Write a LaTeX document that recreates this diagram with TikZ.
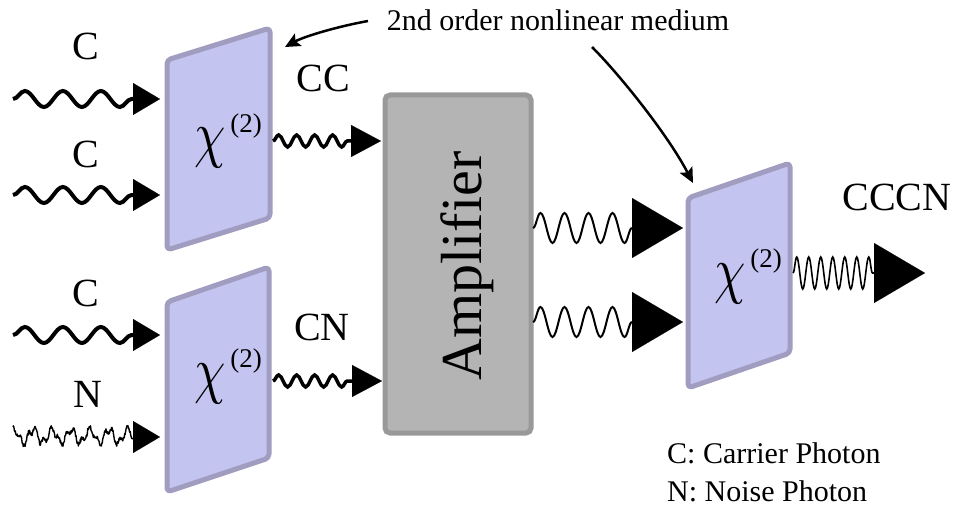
\documentclass[tikz,border=0pt]{standalone}
\usepackage{fontspec}
\usepackage{graphicx}
\setmainfont{Liberation Serif}
\usetikzlibrary{arrows.meta,decorations.pathmorphing}
\definecolor{chifill}{RGB}{196,196,240}
\definecolor{chiedge}{RGB}{160,157,192}
\definecolor{ampfill}{RGB}{180,180,180}
\definecolor{ampedge}{RGB}{153,153,153}
\newcommand{\chilabel}{\scalebox{5}[6.4]{$\chi$}\kern5pt\raisebox{24pt}{\fontsize{27}{27}\selectfont (2)}}
\begin{document}
\begin{tikzpicture}[x=1pt,y=-1pt,
  chibox/.style={draw=chiedge, fill=chifill, line width=5pt, rounded corners=4pt, line join=round},
  ampbox/.style={draw=ampedge, fill=ampfill, line width=5pt, rounded corners=5pt},
  biglbl/.style={inner sep=0pt, anchor=base, font=\fontsize{40}{40}\selectfont},
  smalllbl/.style={inner sep=0pt, font=\fontsize{30}{30}\selectfont},
  chilbl/.style={inner sep=0pt, anchor=base west},
  wavein/.style={line width=4pt, decorate, decoration={snake, amplitude=8pt, segment length=38pt}},
  wavemid/.style={line width=3.5pt, decorate, decoration={snake, amplitude=6pt, segment length=18pt}},
  waveamp/.style={line width=2pt, decorate, decoration={snake, amplitude=15pt, segment length=24pt}},
  waveout/.style={line width=1.6pt, decorate, decoration={snake, amplitude=16pt, segment length=12pt}},
  noiseline/.style={line width=1.4pt, line join=round},
  headsmall/.style={line width=0.1pt, -{Triangle[length=27pt, width=32pt]}},
  headmid/.style={line width=0.1pt, -{Triangle[length=30pt, width=32pt]}},
  headbig/.style={line width=0.1pt, -{Triangle[length=51pt, width=60pt]}},
  pointer/.style={line width=2.5pt, -{Stealth[length=15pt, width=14pt, inset=3pt]}},
]
\useasboundingbox (0,0) rectangle (958,508);

% boxes
\draw[chibox] (167,60) -- (270,28) -- (270,218) -- (167,250) -- cycle;
\draw[chibox] (167,302) -- (269,267) -- (269,458) -- (167,492) -- cycle;
\draw[chibox] (688,198) -- (790,163) -- (790,353) -- (688,388) -- cycle;
\draw[ampbox] (385,95) rectangle (531,433);

\node[chilbl] (chiA) at (194,156) {\chilabel};
\node[chilbl] (chiB) at (194,391) {\chilabel};
\node[chilbl] (chiC) at (714,291) {\chilabel};
\node[inner sep=0pt, rotate=90, anchor=base, font=\fontsize{58}{58}\selectfont] (amp) at (481,266) {Amplifier};

% labels
\node[biglbl] (lC1) at (86,60) {C};
\node[biglbl] (lC2) at (86,167) {C};
\node[biglbl] (lC3) at (86,306) {C};
\node[biglbl] (lN) at (88,407) {N};
\node[biglbl] (lCC) at (323,92) {CC};
\node[biglbl] (lCN) at (322,340) {CN};
\node[biglbl] (lCCCN) at (897,210) {CCCN};
\node[smalllbl, anchor=base] (title) at (558,31) {2nd order nonlinear medium};
\node[smalllbl, anchor=base west] (leg1) at (667,463) {C: Carrier Photon};
\node[smalllbl, anchor=base west] (leg2) at (667,501) {N: Noise Photon};

% coordinates for photons
\coordinate (i1s) at (13,99);  \coordinate (i1e) at (133,99);  \coordinate (i1t) at (160,99);
\coordinate (i2s) at (13,195); \coordinate (i2e) at (133,195); \coordinate (i2t) at (160,195);
\coordinate (i3s) at (13,335); \coordinate (i3e) at (133,335); \coordinate (i3t) at (160,335);
\coordinate (n1e) at (134,437); \coordinate (n1t) at (160,437);
\coordinate (o1s) at (273,141); \coordinate (o1e) at (351,141); \coordinate (o1t) at (381,141);
\coordinate (o2s) at (273,381); \coordinate (o2e) at (352,381); \coordinate (o2t) at (382,381);
\coordinate (a1s) at (533,228); \coordinate (a1e) at (632,228); \coordinate (a1t) at (683,228);
\coordinate (a2s) at (533,322); \coordinate (a2e) at (632,322); \coordinate (a2t) at (683,322);
\coordinate (f1s) at (793,273); \coordinate (f1e) at (875,273); \coordinate (f1t) at (925,273);

\draw[wavein] (i1s) -- (i1e); \draw[headsmall] (i1e) -- (i1t);
\draw[wavein] (i2s) -- (i2e); \draw[headsmall] (i2e) -- (i2t);
\draw[wavein] (i3s) -- (i3e); \draw[headsmall] (i3e) -- (i3t);
\pgfmathsetseed{7}
\draw[noiseline] plot[domain=13:134, samples=260] (\x, {436 + 6.5*sin(\x*19) + 3.5*sin(\x*47+30) + 2*rand}) -- (n1e);
\draw[headsmall] (n1e) -- (n1t);
\draw[wavemid] (o1s) -- (o1e); \draw[headmid] (o1e) -- (o1t);
\draw[wavemid] (o2s) -- (o2e); \draw[headmid] (o2e) -- (o2t);
\draw[waveamp] (a1s) -- (a1e); \draw[headbig] (a1e) -- (a1t);
\draw[waveamp] (a2s) -- (a2e); \draw[headbig] (a2e) -- (a2t);
\draw[waveout] (f1s) -- (f1e); \draw[headbig] (f1e) -- (f1t);

% pointers
\coordinate (p1s) at (368,21); \coordinate (p1e) at (285,47);
\coordinate (p2s) at (592,47); \coordinate (p2e) at (693,183);
\draw[pointer] (p1s) .. controls (340,26) and (305,36) .. (p1e);
\draw[pointer] (p2s) .. controls (620,75) and (668,135) .. (p2e);
\end{tikzpicture}
\end{document}
